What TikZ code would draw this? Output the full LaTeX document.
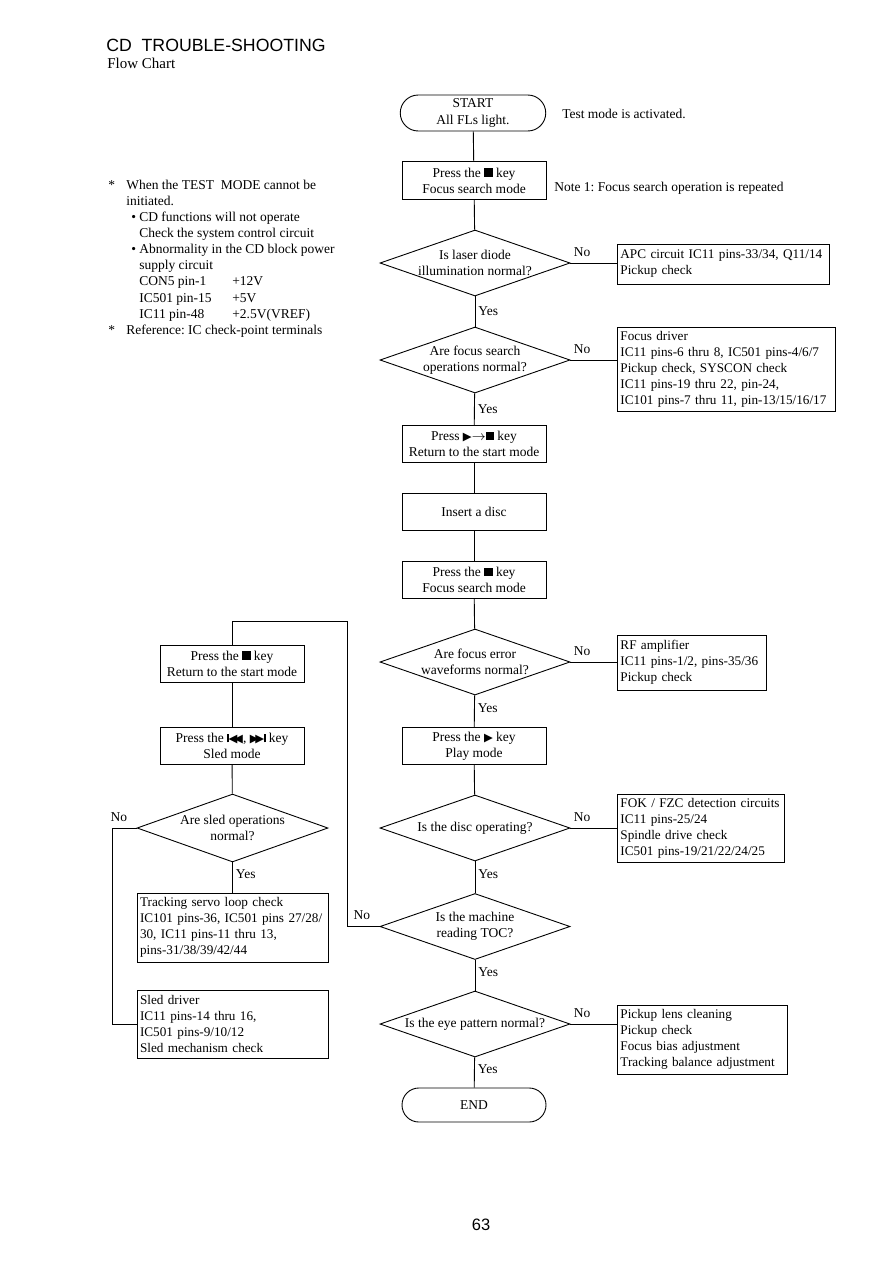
\documentclass[tikz,border=0pt]{standalone}
\usepackage{fontspec}
\setmainfont{Liberation Serif}
\newfontfamily\headfont{Liberation Sans}
\newfontfamily\cdglyph{DejaVu Sans}[Scale=0.85]
\usetikzlibrary{shapes.geometric, positioning}
\frenchspacing

% key symbols
\newcommand{\stopkey}{\rule[0.02em]{0.62em}{0.62em}}
\newcommand{\playkey}{{\cdglyph ▶}}
\newcommand{\backkey}{\rule[0.02em]{0.1em}{0.64em}{\cdglyph ◀\kern-0.28em◀}}
\newcommand{\fwdkey}{{\cdglyph ▶\kern-0.28em▶}\rule[0.02em]{0.1em}{0.64em}}

\begin{document}
\begin{tikzpicture}[
  x=0.6667pt, y=-0.6667pt,
  every node/.style={font=\fontsize{9}{10.7}\selectfont},
  line/.style={line width=0.6pt},
  box/.style={rectangle, draw, line width=0.6pt, minimum width=96pt, minimum height=25pt, align=center, inner sep=0pt},
  term/.style={rectangle, draw, line width=0.6pt, rounded corners=12pt, minimum width=97pt, minimum height=24pt, align=center, inner sep=0pt},
  decision/.style={diamond, draw, line width=0.6pt, minimum width=126.7pt, minimum height=44pt, inner sep=0pt},
  qtext/.style={align=center, inner sep=0pt},
  checkbox/.style={rectangle, draw, line width=0.6pt, align=left, anchor=west, inner xsep=2pt, inner ysep=0pt, font=\fontsize{8.8}{10.7}\selectfont},
  yn/.style={inner sep=2pt},
  plain/.style={anchor=west, inner sep=0pt},
]
\useasboundingbox (0,0) rectangle (893,1263);

% Title
\node[plain, font=\headfont\fontsize{11.8}{14}\selectfont] (title) at (106,45) {CD\ \ TROUBLE-SHOOTING};
\node[plain, font=\fontsize{10}{12}\selectfont] (subtitle) at (107,63) {Flow Chart};

% Notes
\node[anchor=north west, align=left, inner sep=0pt] (notes) at (108,180) {%
\makebox[12pt][l]{*}When the TEST\ \ MODE cannot be\\
\hspace*{12pt}initiated.\\
\hspace*{15.3pt}\makebox[5.4pt][l]{•}CD functions will not operate\\
\hspace*{20.7pt}Check the system control circuit\\
\hspace*{15.3pt}\makebox[5.4pt][l]{•}Abnormality in the CD block power\\
\hspace*{20.7pt}supply circuit\\
\hspace*{20.7pt}\makebox[62pt][l]{CON5 pin-1}+12V\\
\hspace*{20.7pt}\makebox[62pt][l]{IC501 pin-15}+5V\\
\hspace*{20.7pt}\makebox[62pt][l]{IC11 pin-48}+2.5V(VREF)\\
\makebox[12pt][l]{*}Reference: IC check-point terminals};

% === MAIN COLUMN ===
\node[term] (start) at (473,113) {START\\All FLs light.};
\node[plain] (startnote) at (562,114) {Test mode is activated.};

\node[box] (focus1) at (474,180.5) {Press the \stopkey{} key\\Focus search mode};
\node[plain] (focusnote) at (554,188) {Note 1: Focus search operation is repeated};

\node[decision] (d1) at (475,263) {};
\node[qtext] (d1t) at (d1) {Is laser diode\\illumination normal?};
\node[decision] (d2) at (475,360) {};
\node[qtext] (d2t) at (d2) {Are focus search\\operations normal?};

\node[box] (retstart) at (474,444) {Press \playkey$\rightarrow$\stopkey{} key\\Return to the start mode};
\node[box] (insert) at (474,512) {Insert a disc};
\node[box] (focus2) at (474,580) {Press the \stopkey{} key\\Focus search mode};

\node[decision] (d3) at (475,662) {};
\node[qtext] (d3t) at (d3) {Are focus error\\waveforms normal?};
\node[box] (play) at (474,746) {Press the \playkey{} key\\Play mode};
\node[decision] (d4) at (475,828) {};
\node[qtext] (d4t) at (d4) {Is the disc operating?};
\node[decision] (d5) at (475,926.5) {};
\node[qtext] (d5t) at (d5) {Is the machine\\reading TOC?};
\node[decision] (d7) at (475,1024) {};
\node[qtext] (d7t) at (d7) {Is the eye pattern normal?};
\node[term, rounded corners=11.3pt, minimum height=22.7pt, minimum width=96pt] (end) at (474,1105) {END};

% === CHECK BOXES (RIGHT) ===
\node[checkbox, text width=137.3pt, minimum height=26.7pt] (apc) at (617,264) {APC circuit IC11 pins-33/34, Q11/14\\Pickup check};
\node[checkbox, text width=141.3pt, minimum height=56pt] (fdrv) at (617,369) {Focus driver\\IC11 pins-6 thru 8, IC501 pins-4/6/7\\Pickup check, SYSCON check\\IC11 pins-19 thru 22, pin-24,\\IC101 pins-7 thru 11, pin-13/15/16/17};
\node[checkbox, text width=95.3pt, minimum height=36.7pt] (rf) at (617,662.5) {RF amplifier\\IC11 pins-1/2, pins-35/36\\Pickup check};
\node[checkbox, text width=107.3pt, minimum height=45.3pt] (fok) at (617,828) {FOK / FZC detection circuits\\IC11 pins-25/24\\Spindle drive check\\IC501 pins-19/21/22/24/25};
\node[checkbox, text width=109.3pt, minimum height=46pt] (pick) at (617,1039.5) {Pickup lens cleaning\\Pickup check\\Focus bias adjustment\\Tracking balance adjustment};

% === LEFT COLUMN ===
\node[box, minimum height=24.7pt] (lret) at (232,663.5) {Press the \stopkey{} key\\Return to the start mode};
\node[box] (lsled) at (232,746) {Press the \backkey, \fwdkey{} key\\Sled mode};
\node[decision, minimum width=127.3pt, minimum height=45.3pt] (d6) at (232.5,828) {};
\node[qtext] (d6t) at (d6) {Are sled operations\\normal?};
\node[checkbox, anchor=center, text width=123.3pt, minimum height=46pt] (track) at (232.5,927.5) {Tracking servo loop check\\IC101 pins-36, IC501 pins 27/28/\\30, IC11 pins-11 thru 13,\\pins-31/38/39/42/44};
\node[checkbox, anchor=center, text width=123.3pt, minimum height=45.3pt] (sleddrv) at (232.5,1024) {Sled driver\\IC11 pins-14 thru 16,\\IC501 pins-9/10/12\\Sled mechanism check};

\coordinate (tocturn) at (347,621);

% === CONNECTORS: main column ===
\draw[line] (start) -- (focus1);
\draw[line] (focus1) -- (d1);
\draw[line] (d1) -- node[yn, anchor=west]{Yes} (d2);
\draw[line] (d2) -- node[yn, anchor=west]{Yes} (retstart);
\draw[line] (retstart) -- (insert);
\draw[line] (insert) -- (focus2);
\draw[line] (focus2) -- (d3);
\draw[line] (d3) -- node[yn, anchor=west, pos=0.4]{Yes} (play);
\draw[line] (play) -- (d4);
\draw[line] (d4) -- node[yn, anchor=west, pos=0.4]{Yes} (d5);
\draw[line] (d5) -- node[yn, anchor=west, pos=0.4]{Yes} (d7);
\draw[line] (d7) -- node[yn, anchor=west, pos=0.4]{Yes} (end);

% === CONNECTORS: No branches ===
\draw[line] (d1.east) -- node[yn, pos=0, anchor=south west, yshift=2pt]{No} (d1.east -| apc.west);
\draw[line] (d2.east) -- node[yn, pos=0, anchor=south west, yshift=2pt]{No} (d2.east -| fdrv.west);
\draw[line] (d3.east) -- node[yn, pos=0, anchor=south west, yshift=2pt]{No} (d3.east -| rf.west);
\draw[line] (d4.east) -- node[yn, pos=0, anchor=south west, yshift=2pt]{No} (d4.east -| fok.west);
\draw[line] (d7.east) -- node[yn, pos=0, anchor=south west, yshift=2pt]{No} (d7.east -| pick.west);
\draw[line] (d5.west) -- node[yn, pos=0, anchor=south east, yshift=2pt, xshift=-4pt]{No} (d5.west -| tocturn) -- (tocturn) -| (lret.north);

% === CONNECTORS: left column ===
\draw[line] (lret) -- (lsled);
\draw[line] (lsled) -- (d6);
\draw[line] (d6) -- node[yn, anchor=west, pos=0.4]{Yes} (track);
\draw[line] (d6.west) -- node[yn, pos=0, anchor=south east, yshift=2pt, xshift=-4pt]{No} ([xshift=-16pt]d6.west) |- (sleddrv.west);

% Page number
\node[font=\headfont\fontsize{11}{13}\selectfont] (pageno) at (481,1225) {63};
\end{tikzpicture}
\end{document}
